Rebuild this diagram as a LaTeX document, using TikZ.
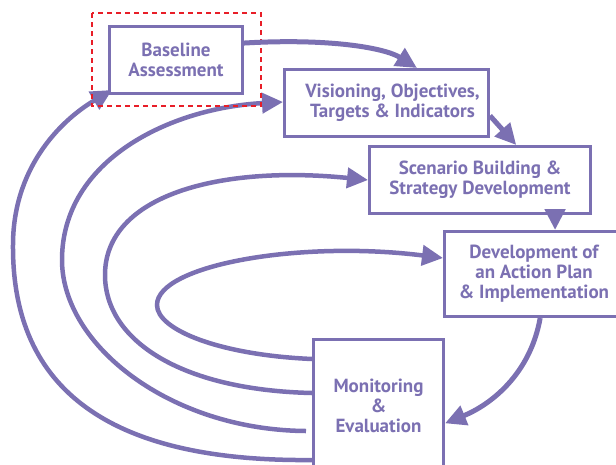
\documentclass[tikz,border=0pt]{standalone}
\usepackage{fontspec}
\setmainfont{PT Sans}
\usetikzlibrary{arrows.meta,calc}
\definecolor{pur}{RGB}{123,112,178}
\definecolor{redd}{RGB}{232,30,40}
\begin{document}
\begin{tikzpicture}[x=1pt,y=-1pt,
  box/.style={draw=pur,line width=3pt,fill=white,anchor=north west,inner sep=0pt,
    align=center,text=pur,font=\bfseries\fontsize{19}{20}\selectfont},
  flow/.style={draw=pur,line width=5pt,-{Triangle[length=21pt,width=20pt]}},
  loopline/.style={draw=pur,line width=4.5pt},
  reddash/.style={draw=redd,line width=2pt,dash pattern=on 5pt off 4pt}]
\useasboundingbox (0,0) rectangle (616,464);
% loops
\draw[loopline,-{Triangle[length=21pt,width=20pt]}] ($(312,338)+(0,122)$) coordinate (m4)
  .. controls (110,462) and (12,390) .. (13,245)
  .. controls (13,170) and (58,122) .. (112,90) coordinate (t4);
\draw[loopline,-{Triangle[length=21pt,width=20pt]}] (306,431) coordinate (m3)
  .. controls (170,430) and (62,345) .. (62,260)
  .. controls (62,160) and (170,108) .. (283,102) coordinate (t3);
\draw[loopline,-{Triangle[length=21pt,width=20pt]}] (312,393) coordinate (m2)
  .. controls (180,390) and (105,340) .. (105,275)
  .. controls (105,195) and (220,165) .. (368,180) coordinate (t2);
\draw[loopline,-{Triangle[length=21pt,width=20pt]}] (312,359) coordinate (m1)
  .. controls (220,355) and (157,330) .. (157,305)
  .. controls (157,265) and (300,240) .. (443,258) coordinate (t1);
% boxes
\node[box,minimum width=133pt,minimum height=67pt] (base) at (108,25) {Baseline\\Assessment};
\node[box,minimum width=204pt,minimum height=67pt] (vis) at (283,68) {\hspace*{12pt}Visioning, Objectives,\\\hspace*{12pt}Targets \& Indicators};
\node[box,minimum width=221pt,minimum height=67pt] (scen) at (368,145) {Scenario Building \&\\Strategy Development};
\node[box,minimum width=179pt,minimum height=85pt] (dev) at (443,230) {Development of\\an Action Plan\\\& Implementation};
\node[box,minimum width=130pt,minimum height=132pt] (mon) at (312,338) {Monitoring\\\&\\Evaluation};
\draw[reddash] ($(base.north west)+(-16,-12)$) rectangle ($(base.south east)+(17,11)$);
% flow arrows
\draw[flow] (base.14) .. controls (330,38) and (385,48) .. (vis.49);
\draw[flow] (vis.-7) -- (scen.44);
\draw[flow] (scen.-25.7) -- (scen.-25.7 |- dev.north);
\draw[flow] (dev.-82) .. controls (530,375) and (490,405) .. (mon.-15.5);
\end{tikzpicture}
\end{document}
